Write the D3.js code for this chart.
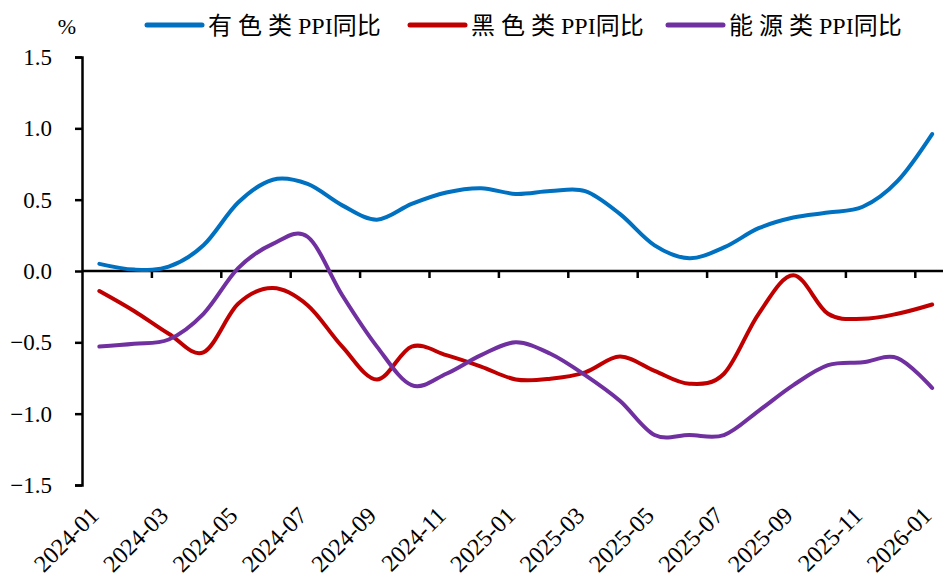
<!DOCTYPE html>
<html lang="zh">
<head>
<meta charset="UTF-8">
<title>PPI同比</title>
<script src="https://cdn.jsdelivr.net/npm/d3@7"></script>
<style type="text/css">
    body { margin: 0; background: #fff; }
    .axis path, .axis line { stroke: #000; stroke-width: 2.5px; }
    .series { fill: none; stroke-width: 4px; stroke-linecap: round; stroke-linejoin: round; }
</style>
</head>
<body>
<svg id="chart"></svg>
<script>
    // months on the axis
    var months = ["2024-01","2024-02","2024-03","2024-04","2024-05","2024-06","2024-07","2024-08","2024-09","2024-10","2024-11","2024-12",
                  "2025-01","2025-02","2025-03","2025-04","2025-05","2025-06","2025-07","2025-08","2025-09","2025-10","2025-11","2025-12","2026-01"];

    // series values (%)
    var nonferrous = [0.05, 0.01, 0.03, 0.18, 0.48, 0.64, 0.61, 0.46, 0.36, 0.47, 0.55, 0.58,
                      0.54, 0.56, 0.56, 0.40, 0.18, 0.09, 0.165, 0.30, 0.375, 0.41, 0.45, 0.63, 0.96];
    var ferrous    = [-0.14, -0.28, -0.44, -0.57, -0.23, -0.12, -0.24, -0.53, -0.76, -0.53, -0.59, -0.67,
                      -0.76, -0.755, -0.71, -0.60, -0.70, -0.79, -0.72, -0.30, -0.03, -0.30, -0.335, -0.30, -0.235];
    var energy     = [-0.53, -0.51, -0.48, -0.30, 0.02, 0.19, 0.24, -0.17, -0.53, -0.80, -0.72, -0.59,
                      -0.50, -0.58, -0.73, -0.91, -1.15, -1.15, -1.15, -0.98, -0.80, -0.66, -0.64, -0.61, -0.82];

    var seriesHead = ["有色类", "黑色类", "能源类"];
    var seriesColors = ["#0070C0", "#C00000", "#7030A0"];
    var yTicks = [-1.5, -1.0, -0.5, 0.0, 0.5, 1.0, 1.5];

    var serif = "'Liberation Serif', 'Times New Roman', 'DejaVu Serif', serif";
    var cjk = "'Noto Sans CJK SC', sans-serif";

    var width = 943, height = 583;
    var plotLeft = 82, plotTop = 57, plotBottom = 485, band = 34.7;

    var svg = d3.select("#chart").attr("width", width).attr("height", height);

    var x = d3.scaleBand().domain(months).range([plotLeft, plotLeft + band * months.length]).padding(0);
    var xIdx = d3.scaleLinear().domain([0, months.length]).range([plotLeft, plotLeft + band * months.length]);
    var y = d3.scaleLinear().domain([-1.5, 1.5]).range([plotBottom, plotTop]);

    // y axis
    var yAxis = svg.append("g")
        .attr("class", "axis")
        .attr("transform", "translate(" + plotLeft + ",0)")
        .call(d3.axisLeft(y).tickValues(yTicks).tickSize(7).tickSizeOuter(7).tickPadding(23)
            .tickFormat(d3.format(".1f")));
    yAxis.attr("font-family", serif).attr("font-size", 23);
    yAxis.selectAll("text").attr("fill", "#000");

    // category axis on the zero line, ticks every two months
    svg.append("g")
        .attr("class", "axis")
        .attr("transform", "translate(0," + y(0) + ")")
        .call(d3.axisBottom(xIdx).tickValues(d3.range(2, months.length, 2)).tickSize(7).tickSizeOuter(0).tickFormat(""))
        .select(".domain").attr("d", "M" + plotLeft + ",0H" + width);

    // month labels at the bottom
    svg.append("g").selectAll("text")
        .data(months.filter(function (d, i) { return i % 2 === 0; }))
        .enter()
        .append("text")
        .attr("transform", function (d) {
            return "translate(" + (x(d) + band / 2 - 11) + ",505) rotate(-45)";
        })
        .attr("text-anchor", "end")
        .attr("dy", "0.7em")
        .attr("font-family", serif)
        .attr("font-size", 24)
        .text(function (d) { return d; });

    // % unit
    svg.append("text").attr("x", 67).attr("y", 34).attr("text-anchor", "middle")
        .attr("font-family", serif).attr("font-size", 22).text("%");

    // lines
    var line = d3.line()
        .x(function (d, i) { return x(months[i]) + band / 2; })
        .y(function (d) { return y(d); })
        .curve(d3.curveCardinal.tension(0));

    var allSeries = [nonferrous, ferrous, energy];
    svg.append("g").selectAll("path")
        .data(allSeries)
        .enter()
        .append("path")
        .attr("class", "series")
        .attr("stroke", function (d, i) { return seriesColors[i]; })
        .attr("d", line);

    // legend
    var legendX = [147, 410, 668];
    var legend = svg.append("g").selectAll("g")
        .data(seriesHead)
        .enter()
        .append("g")
        .attr("transform", function (d, i) { return "translate(" + legendX[i] + ",25)"; });
    legend.append("line")
        .attr("x1", 0).attr("x2", 55).attr("y1", 0).attr("y2", 0)
        .attr("stroke", function (d, i) { return seriesColors[i]; })
        .attr("stroke-width", 5).attr("stroke-linecap", "round");
    var legendText = legend.append("text")
        .attr("x", 61).attr("dy", "0.36em")
        .attr("font-size", 24);
    legendText.append("tspan")
        .attr("font-family", cjk).attr("letter-spacing", 6)
        .text(function (d) { return d; });
    legendText.append("tspan")
        .attr("font-family", serif)
        .text("PPI");
    legendText.append("tspan")
        .attr("font-family", cjk)
        .text("同比");
</script>
</body>
</html>
